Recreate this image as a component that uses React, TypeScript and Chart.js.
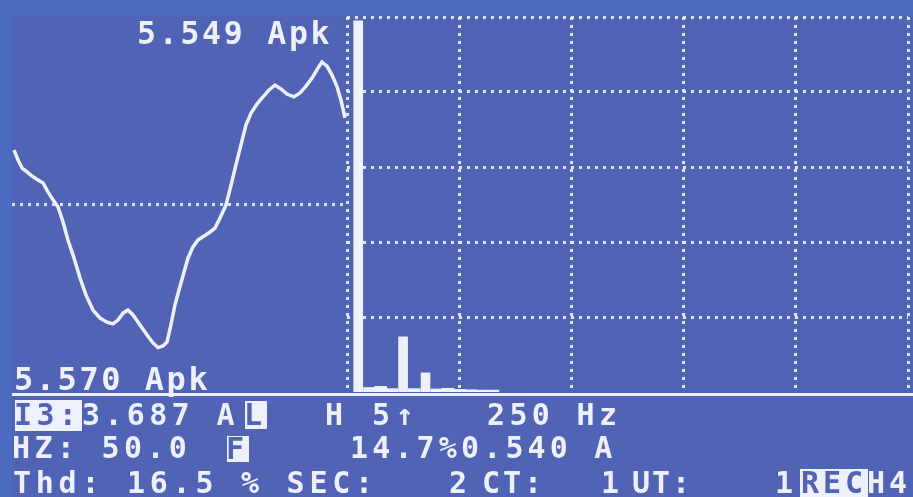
import React, { useEffect, useRef } from "react";
import { Chart, registerables } from "chart.js";

Chart.register(...registerables);

// ---- Waveform (one cycle, time in ms / current in A) ----
const waveTimeMs = [
  0.12, 0.36, 0.6, 0.89, 1.19, 1.55, 1.85, 2.14, 2.44, 2.74, 3.04, 3.33, 3.69, 4.05, 4.4,
  4.82, 5.24, 5.65, 6.01, 6.31, 6.61, 6.9, 7.2, 7.62, 8.04, 8.39, 8.69, 8.99, 9.23, 9.46,
  9.7, 9.94, 10.24, 10.48, 10.77, 11.07, 11.43, 11.79, 12.08, 12.38, 12.74, 13.04, 13.33,
  13.63, 13.93, 14.23, 14.58, 14.94, 15.3, 15.65, 16.01, 16.37, 16.79, 17.14, 17.5, 17.86,
  18.21, 18.45, 18.75, 19.05, 19.35, 19.58, 19.82,
];
const waveCurrentA = [
  2.12, 1.73, 1.42, 1.27, 1.11, 0.95, 0.84, 0.49, 0.18, -0.1, -0.68, -1.38, -2.08, -2.86,
  -3.52, -4.11, -4.42, -4.58, -4.65, -4.5, -4.23, -4.11, -4.3, -4.69, -5.08, -5.39, -5.57,
  -5.51, -5.35, -4.69, -3.91, -3.33, -2.63, -2.08, -1.65, -1.38, -1.23, -1.07, -0.92, -0.53,
  -0.02, 0.76, 1.54, 2.32, 3.1, 3.56, 3.91, 4.19, 4.46, 4.65, 4.5, 4.3, 4.19, 4.34, 4.61,
  4.92, 5.31, 5.549, 5.39, 5.04, 4.58, 4.07, 3.37,
];
const waveZeroTicks = [0];

// ---- Harmonic spectrum (% of fundamental) ----
const mainHarmonicOrder = [1, 5, 7];
const mainHarmonicPct = [99, 14.7, 5.1];
const minorHarmonicOrder = [2, 3, 4, 6, 8, 9, 10, 11, 12, 13];
const minorHarmonicPct = [1.2, 1.5, 0.9, 0.9, 0.8, 1.0, 0.7, 0.6, 0.5, 0.5];
const spectrumXTicks = [0, 10, 20, 30, 40, 50];
const spectrumYTicks = [20, 40, 60, 80, 100];

// ---- Screen texts ----
const peakMaxText = "5.549 Apk";
const peakMinText = "5.570 Apk";

const PANEL = "#5163b4";
const EDGE = "#4a6bbe";
const INK = "#eef1fb";
const DOT = "rgba(238,241,251,0.92)";
const MONO = '"DejaVu Sans Mono", monospace';

type LabelProps = {
  x: number;
  capTop: number;
  size: number;
  pitch: number;
  text: string;
  color?: string;
};

function Label({ x, capTop, size, pitch, text, color }: LabelProps) {
  return (
    <div
      style={{
        position: "absolute",
        left: x,
        top: capTop - 0.117 * size,
        fontFamily: MONO,
        fontWeight: 700,
        fontSize: size,
        lineHeight: 1,
        letterSpacing: pitch - 0.602 * size,
        color: color || INK,
        whiteSpace: "pre",
      }}
    >
      {text}
    </div>
  );
}

function Box({ x, y, w, h }: { x: number; y: number; w: number; h: number }) {
  return <div style={{ position: "absolute", left: x, top: y, width: w, height: h, background: INK }} />;
}

function WaveChart() {
  const ref = useRef<HTMLCanvasElement | null>(null);
  useEffect(() => {
    if (!ref.current) return;
    const chart = new Chart(ref.current, {
      type: "line",
      data: {
        datasets: [
          {
            data: waveTimeMs.map((t, i) => ({ x: t, y: waveCurrentA[i] })),
            borderColor: INK,
            borderWidth: 3.5,
            pointRadius: 0,
            tension: 0,
            fill: false,
          },
        ],
      },
      options: {
        animation: false,
        responsive: false,
        maintainAspectRatio: false,
        layout: { padding: 0 },
        plugins: { legend: { display: false }, tooltip: { enabled: false } },
        scales: {
          x: { type: "linear", min: 0, max: 20, display: false },
          y: {
            type: "linear",
            min: -7.3,
            max: 7.3,
            ticks: { display: false },
            grid: { color: DOT, lineWidth: 3, drawTicks: false },
            border: { display: false, dash: [3, 5] },
            afterBuildTicks: (s: any) => {
              s.ticks = waveZeroTicks.map((v) => ({ value: v }));
            },
          },
        },
      } as any,
    });
    return () => chart.destroy();
  }, []);
  return (
    <canvas
      ref={ref}
      width={336}
      height={375}
      style={{ position: "absolute", left: 12, top: 17, width: 336, height: 375 }}
    />
  );
}

function SpectrumChart() {
  const ref = useRef<HTMLCanvasElement | null>(null);
  useEffect(() => {
    if (!ref.current) return;
    const chart = new Chart(ref.current, {
      type: "bar",
      data: {
        datasets: [
          {
            data: mainHarmonicOrder.map((h, i) => ({ x: h, y: mainHarmonicPct[i] })),
            backgroundColor: INK,
            borderWidth: 0,
            barThickness: 9,
            grouped: false,
          },
          {
            data: minorHarmonicOrder.map((h, i) => ({ x: h, y: minorHarmonicPct[i] })),
            backgroundColor: INK,
            borderWidth: 0,
            barThickness: 12,
            grouped: false,
          },
        ],
      },
      options: {
        animation: false,
        responsive: false,
        maintainAspectRatio: false,
        layout: { padding: { left: 8, right: 5, top: 7, bottom: 8 } },
        plugins: { legend: { display: false }, tooltip: { enabled: false } },
        scales: {
          x: {
            type: "linear",
            min: 0,
            max: 50,
            offset: false,
            ticks: { display: false },
            grid: { color: DOT, lineWidth: 3, drawTicks: false, offset: false },
            border: { display: false, dash: [3, 5] },
            afterBuildTicks: (s: any) => {
              s.ticks = spectrumXTicks.map((v) => ({ value: v }));
            },
          },
          y: {
            type: "linear",
            min: 0,
            max: 100,
            ticks: { display: false },
            grid: { color: DOT, lineWidth: 3, drawTicks: false },
            border: { display: false, dash: [3, 5] },
            afterBuildTicks: (s: any) => {
              s.ticks = spectrumYTicks.map((v) => ({ value: v }));
            },
          },
        },
      } as any,
    });
    return () => chart.destroy();
  }, []);
  return (
    <canvas
      ref={ref}
      width={574}
      height={390}
      style={{ position: "absolute", left: 339, top: 10, width: 574, height: 390 }}
    />
  );
}

export default function App() {
  return (
    <div
      style={{
        position: "absolute",
        left: 0,
        top: 0,
        width: 913,
        height: 497,
        overflow: "hidden",
        background: EDGE,
      }}
    >
      <div style={{ position: "absolute", left: 12, top: 15, width: 901, height: 482, background: PANEL }} />
      <WaveChart />
      <SpectrumChart />
      {/* separator */}
      <div style={{ position: "absolute", left: 12, top: 393, width: 901, height: 3, background: INK }} />

      <Label x={137} capTop={22} size={31.5} pitch={21.7} text={peakMaxText} />
      <Label x={14} capTop={367} size={32} pitch={21.8} text={peakMinText} />

      {/* line 1 */}
      <Box x={15} y={400} w={67} h={31} />
      <Label x={14} capTop={404} size={30} pitch={22.4} text="I3:" color={PANEL} />
      <Label x={82} capTop={404} size={30} pitch={22.4} text="3.687 A" />
      <Box x={245} y={401} w={22} h={28} />
      <Label x={244} capTop={404} size={30} pitch={22.4} text="L" color={PANEL} />
      <Label x={325} capTop={404} size={30} pitch={23.5} text={"H 5\u2191"} />
      <Label x={487} capTop={404} size={30} pitch={22.4} text="250 Hz" />

      {/* line 2 */}
      <Label x={12} capTop={437} size={30} pitch={22.4} text="HZ: 50.0" />
      <Box x={227} y={436} w={22} h={26} />
      <Label x={226} capTop={438} size={30} pitch={22.4} text="F" color={PANEL} />
      <Label x={350} capTop={437} size={30} pitch={22.2} text="14.7%0.540 A" />

      {/* line 3 */}
      <Label x={13} capTop={472} size={30} pitch={22.8} text="Thd: 16.5 % SEC:" />
      <Label x={449} capTop={472} size={30} pitch={22} text="2" />
      <Label x={482} capTop={472} size={30} pitch={21} text="CT:" />
      <Label x={601} capTop={472} size={30} pitch={22} text="1" />
      <Label x={632} capTop={472} size={30} pitch={20} text="UT:" />
      <Label x={775} capTop={472} size={30} pitch={22} text="1" />
      <Box x={800} y={469} w={68} h={28} />
      <Label x={801} capTop={472} size={30} pitch={22} text="REC" color={PANEL} />
      <Label x={867} capTop={472} size={30} pitch={22} text="H4" />
    </div>
  );
}
